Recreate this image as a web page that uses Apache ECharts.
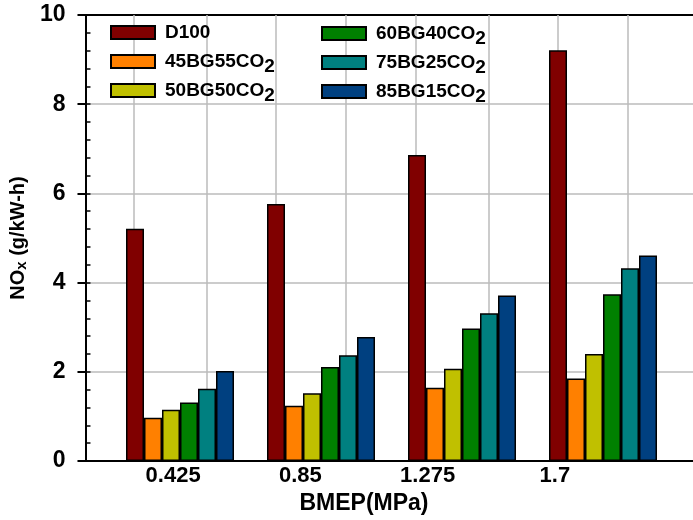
<!DOCTYPE html>
<html>
<head>
<meta charset="utf-8">
<script src="https://cdn.jsdelivr.net/npm/echarts@6/dist/echarts.min.js"></script>
<style>
  html, body { margin: 0; padding: 0; background: #fff; }
  #chart { width: 693px; height: 520px; }
</style>
</head>
<body>
<div id="chart"></div>
<script>
    // BMEP load points (MPa)
    const bmep = [0.425, 0.85, 1.275, 1.7];
    const bmepLabels = ['0.425', '0.85', '1.275', '1.7'];
    // vertical grid lines, every half BMEP step
    const gridX = [0.2125, 0.425, 0.6375, 0.85, 1.0625, 1.275, 1.4875, 1.7, 1.9125];
    // minor ticks on the NOx axis, every 0.4
    const minorTicks = ['0', '0.4', '0.8', '1.2', '1.6', '2', '2.4', '2.8', '3.2', '3.6', '4', '4.4', '4.8',
        '5.2', '5.6', '6', '6.4', '6.8', '7.2', '7.6', '8', '8.4', '8.8', '9.2', '9.6', '10'];

    const fuels = ['D100', '45BG55CO2', '50BG50CO2', '60BG40CO2', '75BG25CO2', '85BG15CO2'];
    const colors = ['#800000', '#ff8000', '#c0c000', '#008000', '#008080', '#004080'];

    // NOx (g/kW-h)
    const d100 = [5.21, 5.76, 6.86, 9.21];
    const bg45 = [0.97, 1.24, 1.64, 1.85];
    const bg50 = [1.15, 1.52, 2.07, 2.40];
    const bg60 = [1.31, 2.11, 2.97, 3.74];
    const bg75 = [1.62, 2.37, 3.31, 4.32];
    const bg85 = [2.02, 2.78, 3.71, 4.61];
    const values = [d100, bg45, bg50, bg60, bg75, bg85];

    const FONT = '"Liberation Sans", Arial, sans-serif';
    const chart = echarts.init(document.getElementById('chart'));

    const series = fuels.map((name, i) => ({
        name: name,
        type: 'bar',
        xAxisIndex: 2,
        yAxisIndex: 2,
        z: 3,
        barWidth: 18,
        barGap: '0%',
        itemStyle: { color: colors[i], borderColor: '#000', borderWidth: 1.5 },
        data: bmep.map((x, k) => [x, values[i][k]]),
    }));
    // vertical grid, drawn under the bars
    series[0].markLine = {
        z: 1,
        silent: true,
        symbol: 'none',
        animation: false,
        label: { show: false },
        emphasis: { disabled: true },
        lineStyle: { type: 'solid', color: '#bbbbbb', width: 1.5 },
        data: gridX.map((v) => ({ xAxis: v })),
    };

    // every entry gets a "2" token (blank for D100) so rows have the same height
    function legendFmt(name) {
        const m = name.match(/^(.*)CO2$/);
        if (m) return '{n|' + m[1] + 'CO}{s|2}';
        return '{n|' + name + '}{s| }';
    }
    function legendAt(names, left, top, gap) {
        return {
            data: names,
            orient: 'vertical',
            left: left,
            top: top,
            padding: 0,
            itemWidth: 44,
            itemHeight: 13,
            itemGap: gap,
            icon: 'rect',
            formatter: legendFmt,
            textStyle: {
                fontFamily: FONT,
                fontWeight: 'bold',
                fontSize: 19,
                color: '#000',
                rich: {
                    n: { fontFamily: FONT, fontWeight: 'bold', fontSize: 19, lineHeight: 20, padding: [0, 0, 0, 5] },
                    s: { fontFamily: FONT, fontWeight: 'bold', fontSize: 19, lineHeight: 20, padding: [10, 0, 0, 0] },
                },
            },
        };
    }
    const hidden = (gridIndex, opt) => Object.assign({ gridIndex, show: false }, opt);

    chart.setOption({
        backgroundColor: '#fff',
        animation: false,
        grid: [
            // frame + y axis
            { left: 82, right: 0, top: 15, bottom: 59 },
            // x labels
            { left: 109.5, right: 74.5, top: 15, bottom: 59 },
            // bars + vertical grid
            { left: 109.5, right: 19.5, top: 15, bottom: 59 },
        ],
        legend: [
            legendAt(fuels.slice(0, 3), 110, 18, 0),
            legendAt(fuels.slice(3), 321, 19, 0),
        ],
        xAxis: [
            {
                gridIndex: 0,
                type: 'category',
                data: ['frame'],
                axisLine: { show: true, onZero: false, lineStyle: { color: '#000', width: 2 } },
                axisTick: { show: false },
                axisLabel: { show: false },
                splitLine: { show: false },
            },
            {
                gridIndex: 1,
                type: 'category',
                data: bmepLabels,
                axisLine: { show: false },
                axisTick: { show: false },
                splitLine: { show: false },
                axisLabel: {
                    margin: 5,
                    fontFamily: FONT,
                    fontWeight: 'bold',
                    fontSize: 22,
                    color: '#000',
                },
                name: 'BMEP(MPa)',
                nameLocation: 'middle',
                nameGap: 31,
                nameTextStyle: { fontFamily: FONT, fontWeight: 'bold', fontSize: 23, color: '#000' },
            },
            hidden(2, { type: 'value', min: 0.2125, max: 1.9125 }),
            {
                gridIndex: 0,
                type: 'category',
                data: ['frame'],
                position: 'top',
                axisLine: { show: true, onZero: false, lineStyle: { color: '#000', width: 2 } },
                axisTick: { show: false },
                axisLabel: { show: false },
                splitLine: { show: false },
            },
        ],
        yAxis: [
            {
                gridIndex: 0,
                type: 'value',
                min: 0,
                max: 10,
                interval: 2,
                axisLine: { show: true, lineStyle: { color: '#000', width: 2 } },
                axisTick: { show: true, length: 8, lineStyle: { color: '#000', width: 2 } },
                axisLabel: {
                    margin: 20,
                    fontFamily: FONT,
                    fontWeight: 'bold',
                    fontSize: 23,
                    color: '#000',
                },
                splitLine: { show: true, lineStyle: { color: '#bbbbbb', width: 1.5 } },
                name: 'NO{x|x} (g/kW-h)',
                nameLocation: 'middle',
                nameGap: 45,
                nameRotate: 90,
                nameTextStyle: {
                    fontFamily: FONT,
                    fontWeight: 'bold',
                    fontSize: 20,
                    color: '#000',
                    rich: {
                        x: { fontFamily: FONT, fontWeight: 'bold', fontSize: 15, padding: [7, 0, 0, 0] },
                    },
                },
            },
            {
                // minor ticks, pointing into the plot
                gridIndex: 0,
                type: 'category',
                data: minorTicks,
                boundaryGap: false,
                position: 'left',
                axisLine: { show: false },
                axisTick: { show: true, inside: true, interval: 0, length: 5, lineStyle: { color: '#000', width: 1.5 } },
                axisLabel: { show: false },
                splitLine: { show: false },
            },
            hidden(2, { type: 'value', min: 0, max: 10 }),
            hidden(1, { type: 'value', min: 0, max: 10 }),
        ],
        series: series,
    });
</script>
</body>
</html>
